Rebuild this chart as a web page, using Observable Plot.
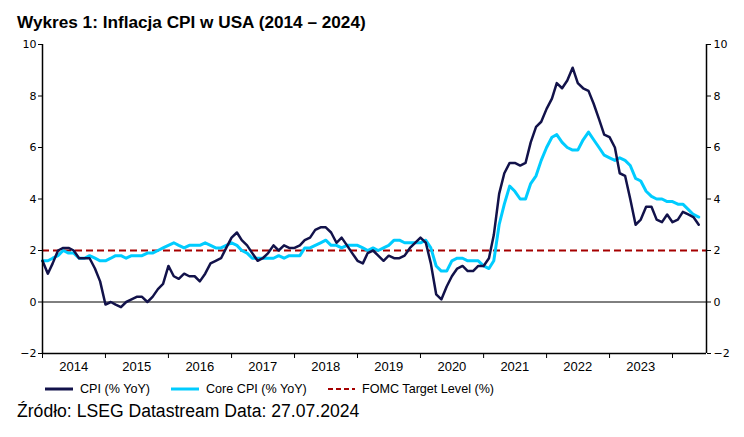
<!DOCTYPE html>
<html>
<head>
<meta charset="utf-8">
<script src="https://cdn.jsdelivr.net/npm/d3@7"></script>
<script src="https://cdn.jsdelivr.net/npm/@observablehq/plot@0.6"></script>
<style>
  body { margin: 0; background: #fff; }
  #wrap { position: relative; width: 744px; height: 437px; font-family: "Liberation Sans", Arial, sans-serif; color: #000; overflow: hidden; }
  #title { position: absolute; left: 17px; top: 12px; font-size: 17.2px; font-weight: bold; line-height: 20px; white-space: nowrap; }
  #chart { position: absolute; left: 0; top: 32px; }
  .leg { position: absolute; top: 381px; height: 16px; font-size: 12.6px; line-height: 16px; white-space: nowrap; }
  .leg svg { position: absolute; left: 0; top: 0; }
  #caption { position: absolute; left: 17px; top: 401px; font-size: 17.6px; line-height: 20px; white-space: nowrap; }
</style>
</head>
<body>
<div id="wrap">
  <div id="title">Wykres 1: Inflacja CPI w USA (2014 – 2024)</div>
  <div id="chart"></div>
  <div id="legend"></div>
  <div id="caption">Źródło: LSEG Datastream Data: 27.07.2024</div>
</div>
<script>
// ---- data (monthly, Jan 2014 – Jun 2024) ----
const firstMonth = "2014-01-01";
const lastMonth = "2024-06-01";
const cpi = [
  1.6, 1.1, 1.5, 2.0, 2.1, 2.1, 2.0, 1.7, 1.7, 1.7, 1.3, 0.8,
  -0.1, 0.0, -0.1, -0.2, 0.0, 0.1, 0.2, 0.2, 0.0, 0.2, 0.5, 0.7,
  1.4, 1.0, 0.9, 1.1, 1.0, 1.0, 0.8, 1.1, 1.5, 1.6, 1.7, 2.1,
  2.5, 2.7, 2.4, 2.2, 1.9, 1.6, 1.7, 1.9, 2.2, 2.0, 2.2, 2.1,
  2.1, 2.2, 2.4, 2.5, 2.8, 2.9, 2.9, 2.7, 2.3, 2.5, 2.2, 1.9,
  1.6, 1.5, 1.9, 2.0, 1.8, 1.6, 1.8, 1.7, 1.7, 1.8, 2.1, 2.3,
  2.5, 2.3, 1.5, 0.3, 0.1, 0.6, 1.0, 1.3, 1.4, 1.2, 1.2, 1.4,
  1.4, 1.7, 2.6, 4.2, 5.0, 5.4, 5.4, 5.3, 5.4, 6.2, 6.8, 7.0,
  7.5, 7.9, 8.5, 8.3, 8.6, 9.1, 8.5, 8.3, 8.2, 7.7, 7.1, 6.5,
  6.4, 6.0, 5.0, 4.9, 4.0, 3.0, 3.2, 3.7, 3.7, 3.2, 3.1, 3.4,
  3.1, 3.2, 3.5, 3.4, 3.3, 3.0
];
const coreCpi = [
  1.6, 1.6, 1.7, 1.8, 2.0, 1.9, 1.9, 1.7, 1.7, 1.8, 1.7, 1.6,
  1.6, 1.7, 1.8, 1.8, 1.7, 1.8, 1.8, 1.8, 1.9, 1.9, 2.0, 2.1,
  2.2, 2.3, 2.2, 2.1, 2.2, 2.2, 2.2, 2.3, 2.2, 2.1, 2.1, 2.2,
  2.3, 2.2, 2.0, 1.9, 1.7, 1.7, 1.7, 1.7, 1.7, 1.8, 1.7, 1.8,
  1.8, 1.8, 2.1, 2.1, 2.2, 2.3, 2.4, 2.2, 2.2, 2.1, 2.2, 2.2,
  2.2, 2.1, 2.0, 2.1, 2.0, 2.1, 2.2, 2.4, 2.4, 2.3, 2.3, 2.3,
  2.3, 2.4, 2.1, 1.4, 1.2, 1.2, 1.6, 1.7, 1.7, 1.6, 1.6, 1.6,
  1.4, 1.3, 1.6, 3.0, 3.8, 4.5, 4.3, 4.0, 4.0, 4.6, 4.9, 5.5,
  6.0, 6.4, 6.5, 6.2, 6.0, 5.9, 5.9, 6.3, 6.6, 6.3, 6.0, 5.7,
  5.6, 5.5, 5.6, 5.5, 5.3, 4.8, 4.7, 4.3, 4.1, 4.0, 4.0, 3.9,
  3.9, 3.8, 3.8, 3.6, 3.4, 3.3
];
const fomcTarget = [2];
const yearTicks = ["2014","2015","2016","2017","2018","2019","2020","2021","2022","2023","2024"];
const yearLabels = ["2014","2015","2016","2017","2018","2019","2020","2021","2022","2023"];
const yTicks = [-2, 0, 2, 4, 6, 8, 10];
const xEnd = "2024-07-16";

const seriesNames = ["CPI (% YoY)", "Core CPI (% YoY)", "FOMC Target Level (%)"];
const colors = { cpi: "#12124a", core: "#00ccff", fomc: "#a50000" };

// ---- build table ----
const parse = d3.utcParse("%Y-%m-%d");
const months = d3.utcMonth.range(parse(firstMonth), d3.utcMonth.offset(parse(lastMonth), 1));
const table = months.map((date, i) => ({ date, cpi: cpi[i], core: coreCpi[i] }));
const yearStart = yearTicks.map(y => new Date(Date.UTC(+y, 0, 1)));
const yearMid = yearLabels.map(y => new Date(Date.UTC(+y, 6, 1)));
const xDomain = [parse(firstMonth), parse(xEnd)];

const chart = Plot.plot({
  width: 744,
  height: 344,
  marginTop: 12,
  marginBottom: 23,
  marginLeft: 42,
  marginRight: 38,
  style: { fontFamily: "'DejaVu Sans', sans-serif", fontSize: "11px", color: "#000", background: "transparent" },
  x: { type: "utc", domain: xDomain },
  y: { domain: [-2, 10] },
  marks: [
    Plot.ruleY([0], { stroke: "#000", strokeWidth: 1 }),
    Plot.ruleY(fomcTarget, { stroke: colors.fomc, strokeWidth: 2, strokeDasharray: "7,4" }),
    Plot.lineY(table, { x: "date", y: "core", stroke: colors.core, strokeWidth: 3, strokeLinejoin: "round" }),
    Plot.lineY(table, { x: "date", y: "cpi", stroke: colors.cpi, strokeWidth: 2.5, strokeLinejoin: "round" }),
    Plot.ruleX([xDomain[0]], { stroke: "#000", strokeWidth: 1.5 }),
    Plot.ruleX([xDomain[1]], { stroke: "#000", strokeWidth: 1.5 }),
    Plot.ruleY([-2], { stroke: "#000", strokeWidth: 1.5 }),
    Plot.axisY({ anchor: "left", ticks: yTicks, tickSize: 4, tickPadding: 2, label: null, fontSize: 11 }),
    Plot.axisY({ anchor: "right", ticks: yTicks, tickSize: 4, tickPadding: 3, label: null, fontSize: 11 }),
    Plot.axisX({ ticks: yearStart, tickSize: 5, tickFormat: () => "", label: null }),
    Plot.axisX({ ticks: yearMid, tickSize: 0, tickPadding: 8, tickFormat: d3.utcFormat("%Y"), label: null,
                 fontFamily: "'Liberation Sans', Arial, sans-serif", fontSize: 13 })
  ]
});
document.getElementById("chart").appendChild(chart);

// ---- legend ----
const legendItems = [
  { name: seriesNames[0], color: colors.cpi, dash: null, left: 45, w: 28, sw: 3 },
  { name: seriesNames[1], color: colors.core, dash: null, left: 171, w: 28, sw: 3 },
  { name: seriesNames[2], color: colors.fomc, dash: "5,3", left: 328, w: 27, sw: 2 }
];
const legend = document.getElementById("legend");
for (const it of legendItems) {
  const div = document.createElement("div");
  div.className = "leg";
  div.style.left = it.left + "px";
  div.style.paddingLeft = (it.w + 7) + "px";
  div.innerHTML = `<svg width="${it.w}" height="16"><line x1="0" x2="${it.w}" y1="8" y2="8" stroke="${it.color}" stroke-width="${it.sw}" ${it.dash ? `stroke-dasharray="${it.dash}"` : ""}/></svg>`;
  div.appendChild(document.createTextNode(it.name));
  legend.appendChild(div);
}
</script>
</body>
</html>
